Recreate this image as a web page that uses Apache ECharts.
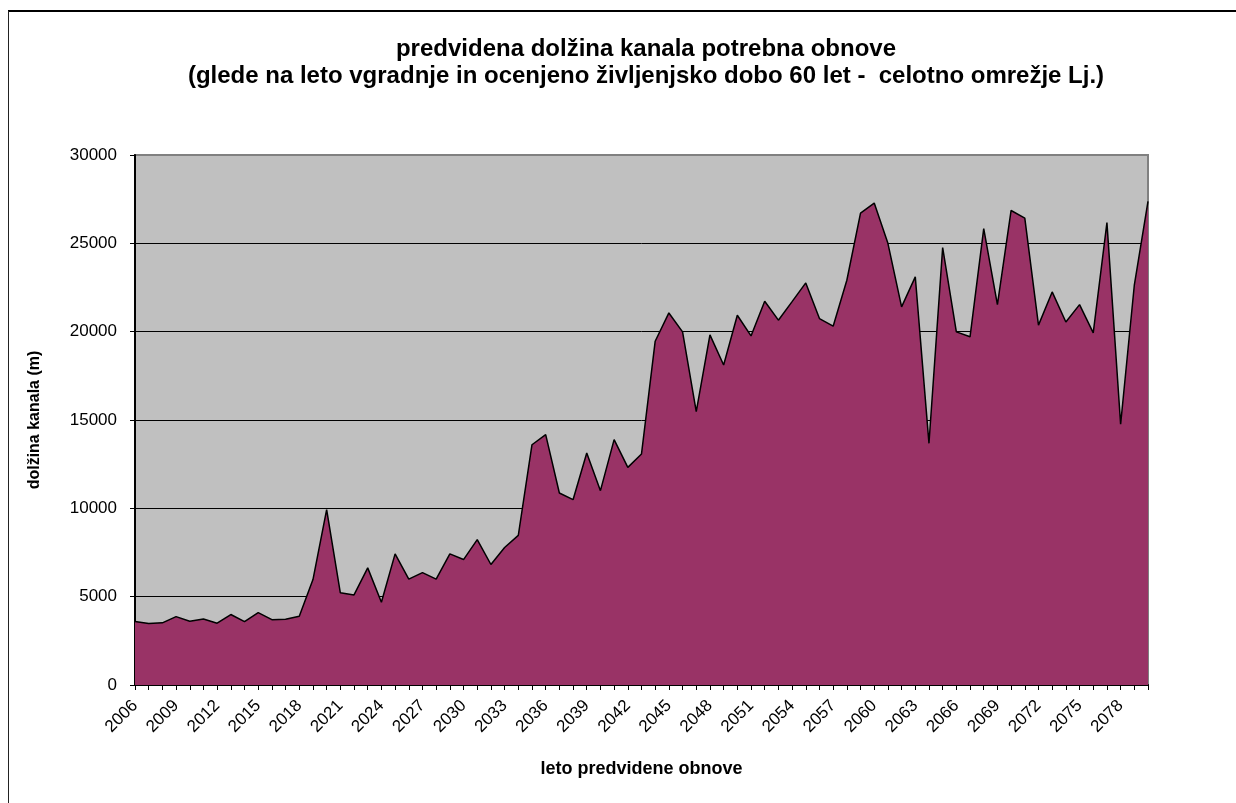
<!DOCTYPE html>
<html>
<head>
<meta charset="utf-8">
<script src="https://cdn.jsdelivr.net/npm/echarts@6/dist/echarts.min.js"></script>
<style>
  html, body { margin: 0; padding: 0; background: #fff; }
  #chart { width: 1236px; height: 803px; }
</style>
</head>
<body>
<div id="chart"></div>
<script>
// Years of expected renewal (every year from 2006 to 2080)
const years = [
  '2006','2007','2008','2009','2010','2011','2012','2013','2014','2015',
  '2016','2017','2018','2019','2020','2021','2022','2023','2024','2025',
  '2026','2027','2028','2029','2030','2031','2032','2033','2034','2035',
  '2036','2037','2038','2039','2040','2041','2042','2043','2044','2045',
  '2046','2047','2048','2049','2050','2051','2052','2053','2054','2055',
  '2056','2057','2058','2059','2060','2061','2062','2063','2064','2065',
  '2066','2067','2068','2069','2070','2071','2072','2073','2074','2075',
  '2076','2077','2078','2079','2080'
];

// Sewer length due for renewal in each year (m)
const lengthMeters = [
  3600, 3480, 3520, 3870, 3610, 3740, 3500, 3990, 3590, 4100,
  3700, 3720, 3890, 5970, 9930, 5220, 5100, 6630, 4680, 7420,
  5990, 6360, 5990, 7420, 7100, 8230, 6820, 7780, 8470, 13600,
  14170, 10870, 10490, 13130, 11000, 13890, 12320, 13080, 19460, 21060,
  19990, 15470, 19820, 18110, 20930, 19760, 21720, 20650, 21700, 22760,
  20740, 20310, 22910, 26710, 27280, 25000, 21400, 23100, 13680, 24760,
  19990, 19710, 25830, 21530, 26860, 26430, 20370, 22250, 20550, 21530,
  19930, 26170, 14760, 22630, 27370
];

const titleLines = [
  'predvidena dolžina kanala potrebna obnove',
  '(glede na leto vgradnje in ocenjeno življenjsko dobo 60 let -  celotno omrežje Lj.)'
];
const xAxisTitle = 'leto predvidene obnove';
const yAxisTitle = 'dolžina kanala (m)';

const FONT = '"Liberation Sans", Arial, sans-serif';

const chart = echarts.init(document.getElementById('chart'), null, { renderer: 'canvas' });

chart.setOption({
  animation: false,
  backgroundColor: '#ffffff',
  textStyle: { fontFamily: FONT, color: '#000' },
  title: {
    text: titleLines.join('\n'),
    left: 641,
    textAlign: 'center',
    top: 31,
    textStyle: {
      fontFamily: FONT,
      fontSize: 24,
      fontWeight: 'bold',
      lineHeight: 27,
      color: '#000'
    }
  },
  graphic: [
    // outer chart frame (top and left edges)
    { type: 'line', shape: { x1: 8, y1: 11, x2: 1236, y2: 11 },
      style: { stroke: '#000', lineWidth: 2 }, silent: true },
    { type: 'line', shape: { x1: 8.5, y1: 11, x2: 8.5, y2: 803 },
      style: { stroke: '#222', lineWidth: 1 }, silent: true }
  ],
  grid: {
    left: 135,
    right: 88,
    top: 155,
    bottom: 118,
    show: true,
    backgroundColor: '#c0c0c0',
    borderColor: '#808080',
    borderWidth: 2
  },
  xAxis: {
    type: 'category',
    data: years,
    boundaryGap: false,
    name: xAxisTitle,
    nameLocation: 'middle',
    nameGap: 75,
    nameTextStyle: { fontFamily: FONT, fontSize: 18, fontWeight: 'bold', color: '#000' },
    axisLine: { show: true, lineStyle: { color: '#000', width: 2 } },
    axisTick: { show: true, interval: 0, length: 5, lineStyle: { color: '#000', width: 1 } },
    axisLabel: {
      interval: 2,
      rotate: 45,
      margin: 18,
      fontFamily: FONT,
      fontSize: 17,
      color: '#000'
    },
    splitLine: { show: false }
  },
  yAxis: {
    type: 'value',
    min: 0,
    max: 30000,
    interval: 5000,
    name: yAxisTitle,
    nameLocation: 'middle',
    nameGap: 92,
    nameRotate: 90,
    nameTextStyle: { fontFamily: FONT, fontSize: 16, fontWeight: 'bold', color: '#000' },
    axisLine: { show: true, lineStyle: { color: '#000', width: 2 } },
    axisTick: { show: true, length: 5, lineStyle: { color: '#000', width: 1 } },
    axisLabel: {
      margin: 18,
      fontFamily: FONT,
      fontSize: 17,
      color: '#000',
      formatter: (v) => String(v)
    },
    splitLine: {
      show: true,
      showMinLine: false,
      showMaxLine: false,
      lineStyle: { color: '#000', width: 1 }
    }
  },
  series: [{
    type: 'line',
    data: lengthMeters,
    symbol: 'none',
    lineStyle: { color: '#000', width: 1.5 },
    areaStyle: { color: '#993366', opacity: 1 },
    z: 3
  }]
});
</script>
</body>
</html>
